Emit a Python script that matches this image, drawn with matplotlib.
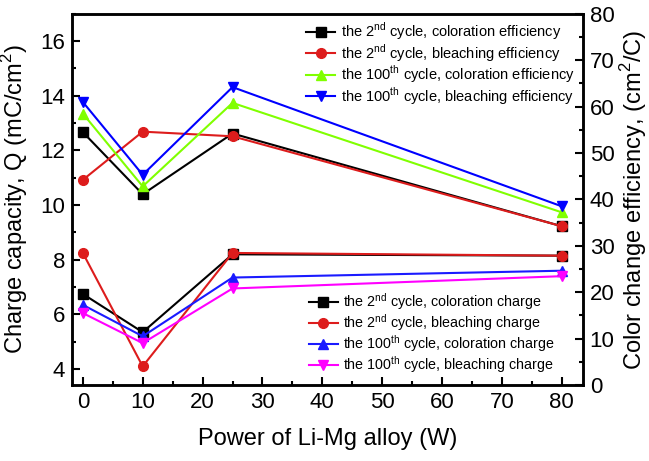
import numpy as np
import matplotlib.pyplot as plt
from matplotlib.ticker import MultipleLocator

plt.rcParams['font.family'] = ['Liberation Sans', 'DejaVu Sans']

# Data
power = [0, 10, 25, 80]

# charge capacity (mC/cm2), left axis
col_charge_2 = [6.75, 5.35, 8.2, 8.15]
ble_charge_2 = [8.25, 4.1, 8.25, 8.15]
col_charge_100 = [6.35, 5.2, 7.35, 7.6]
ble_charge_100 = [6.05, 4.95, 6.95, 7.4]

# color change efficiency (cm2/C), right axis
col_eff_2 = [54.5, 41.1, 54.2, 34.2]
ble_eff_2 = [44.2, 54.6, 53.6, 34.2]
col_eff_100 = [58.5, 42.8, 60.8, 37.2]
ble_eff_100 = [61.0, 45.3, 64.2, 38.5]

fig = plt.figure(figsize=(6.49, 4.61), dpi=100)
ax = fig.add_axes([0.111, 0.165, 0.787, 0.805])
ax2 = ax.twinx()

lw = 1.5
ms = 7
ax.plot(power, col_charge_2, '-s', color='black', lw=lw, ms=ms,
        label='the 2$^{\\mathregular{nd}}$ cycle, coloration charge')
ax.plot(power, ble_charge_2, '-o', color='#dd1c1c', lw=lw, ms=ms,
        label='the 2$^{\\mathregular{nd}}$ cycle, bleaching charge')
ax.plot(power, col_charge_100, '-^', color='#1a1aff', lw=lw, ms=ms,
        label='the 100$^{\\mathregular{th}}$ cycle, coloration charge')
ax.plot(power, ble_charge_100, '-v', color='#ff00ff', lw=lw, ms=ms,
        label='the 100$^{\\mathregular{th}}$ cycle, bleaching charge')

ax2.plot(power, col_eff_2, '-s', color='black', lw=lw, ms=ms,
         label='the 2$^{\\mathregular{nd}}$ cycle, coloration efficiency')
ax2.plot(power, ble_eff_2, '-o', color='#dd1c1c', lw=lw, ms=ms,
         label='the 2$^{\\mathregular{nd}}$ cycle, bleaching efficiency')
ax2.plot(power, col_eff_100, '-^', color='#80ff00', lw=lw, ms=ms,
         label='the 100$^{\\mathregular{th}}$ cycle, coloration efficiency')
ax2.plot(power, ble_eff_100, '-v', color='#0000ff', lw=lw, ms=ms,
         label='the 100$^{\\mathregular{th}}$ cycle, bleaching efficiency')

ax.set_xlim(-1.8, 83.5)
ax.set_ylim(3.42, 17.0)
ax2.set_ylim(0, 80)

ax.xaxis.set_major_locator(MultipleLocator(10))
ax.xaxis.set_minor_locator(MultipleLocator(5))
ax.yaxis.set_major_locator(MultipleLocator(2))
ax.yaxis.set_minor_locator(MultipleLocator(1))
ax2.yaxis.set_major_locator(MultipleLocator(10))
ax2.yaxis.set_minor_locator(MultipleLocator(5))

for a in (ax, ax2):
    a.tick_params(which='both', direction='in', labelsize=16, width=1.5)
    a.tick_params(which='major', length=6, pad=5)
    a.tick_params(which='minor', length=3)
    for s in a.spines.values():
        s.set_linewidth(1.8)
ax.tick_params(top=False)

ax.set_xlabel('Power of Li-Mg alloy (W)', fontsize=17)
ax.set_ylabel('Charge capacity, Q (mC/cm$^{\\mathregular{2}}$)', fontsize=17)
ax2.set_ylabel('Color change efficiency, (cm$^{\\mathregular{2}}$/C)',
               fontsize=17)
ax.xaxis.set_label_coords(0.5, -0.115)
ax.yaxis.set_label_coords(-0.082, 0.5)
ax2.yaxis.set_label_coords(1.07, 0.5)

ax2.legend(loc='upper right', frameon=False, fontsize=10.5, handlelength=2.0,
           handletextpad=0.4, labelspacing=0.0, borderaxespad=0.3,
           bbox_to_anchor=(1.005, 1.01))
ax.legend(loc='lower right', frameon=False, fontsize=10.3, handlelength=2.0,
          handletextpad=0.4, labelspacing=0.0, borderaxespad=0.3,
          bbox_to_anchor=(0.965, 0.0))

fig.savefig('out.png', dpi=100)
